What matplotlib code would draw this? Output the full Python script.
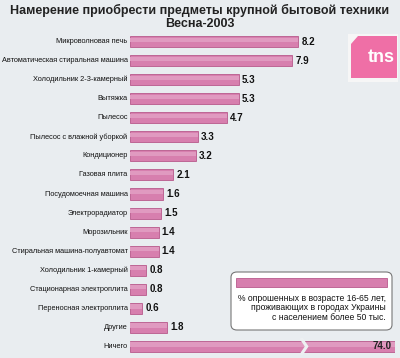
import matplotlib.pyplot as plt
from matplotlib.patches import FancyBboxPatch, Polygon
import numpy as np

plt.rcParams['font.family'] = ['Liberation Sans', 'DejaVu Sans']

items = ["Микроволновая печь", "Автоматическая стиральная машина",
         "Холодильник 2-3-камерный", "Вытяжка", "Пылесос",
         "Пылесос с влажной уборкой", "Кондиционер", "Газовая плита",
         "Посудомоечная машина", "Электрорадиатор", "Морозильник",
         "Стиральная машина-полуавтомат", "Холодильник 1-камерный",
         "Стационарная электроплита", "Переносная электроплита",
         "Другие", "Ничего"]
values = [8.2, 7.9, 5.3, 5.3, 4.7, 3.3, 3.2, 2.1, 1.6, 1.5, 1.4, 1.4,
          0.8, 0.8, 0.6, 1.8, 74.0]

bar_col = '#d77fae'
edge_col = '#b85a8c'
xmax = 12.9

fig = plt.figure(figsize=(4.0, 3.58), dpi=100)
fig.patch.set_facecolor('#e9edf0')

fig.text(0.5, 1 - 10/358, "Намерение приобрести предметы крупной бытовой техники",
         ha='center', va='center', fontsize=9, fontweight='bold', color='#222222')
fig.text(0.5, 1 - 24/358, "Весна-2003", ha='center', va='center', fontsize=9,
         fontweight='bold', color='#222222')

ax = fig.add_axes([130/400, 1 - 356/358, 265/400, 324/358])
ax.set_facecolor('none')
y = np.arange(len(items)) * 1.0
shown = [min(v, xmax) for v in values]
ax.barh(y, shown, height=0.58, color=bar_col, edgecolor=edge_col, linewidth=0.6)
# lighter highlight on upper part of each bar
ax.barh(y - 0.1, shown, height=0.22, color='#e09ac0', linewidth=0)

for yi, v, name in zip(y, values, items):
    ax.text(-0.12, yi, name, ha='right', va='center', fontsize=5.3, color='#111111')
    if v < xmax:
        ax.text(v + 0.15, yi, f"{v:.1f}", ha='left', va='center', fontsize=7,
                fontweight='bold', color='#111111')
    else:
        ax.text(xmax - 0.15, yi, f"{v:.1f}", ha='right', va='center', fontsize=7,
                fontweight='bold', color='#222222')
        xb = 8.4
        ax.add_patch(Polygon([[xb - 0.1, yi - 0.4], [xb + 0.15, yi], [xb - 0.1, yi + 0.4],
                              [xb, yi + 0.4], [xb + 0.25, yi], [xb, yi - 0.4]],
                             closed=True, color='#eef1f3', zorder=3))

ax.set_xlim(0, xmax)
ax.set_ylim(16.5, -0.5)
ax.axis('off')

# legend box
fig.patches.append(FancyBboxPatch((231/400, 1 - 330/358), 161/400, 58/358,
                                  boxstyle='round,pad=0,rounding_size=0.015',
                                  transform=fig.transFigure, facecolor='white',
                                  edgecolor='#777777', linewidth=0.8, zorder=2))
fig.patches.append(FancyBboxPatch((236/400, 1 - 287/358), 151/400, 9/358,
                                  boxstyle='square,pad=0', transform=fig.transFigure,
                                  facecolor=bar_col, edgecolor=edge_col, linewidth=0.6, zorder=3))
fig.text(386/400, 1 - 308/358,
         "% опрошенных в возрасте 16-65 лет,\nпроживающих в городах Украины\nс населением более 50 тыс.",
         ha='right', va='center', fontsize=6.2, linespacing=1.05, color='#111111', zorder=4)

# tns logo
fig.patches.append(FancyBboxPatch((348/400, 1 - 82/358), 50/400, 48/358,
                                  boxstyle='square,pad=0', transform=fig.transFigure,
                                  facecolor='#f6f6f6', edgecolor='none', zorder=2))
fig.patches.append(Polygon([[358/400, 1 - 36/358], [397/400, 1 - 36/358],
                            [397/400, 1 - 78/358], [351/400, 1 - 78/358],
                            [351/400, 1 - 44/358]], closed=True,
                           transform=fig.transFigure, facecolor='#ef6fa6',
                           edgecolor='none', zorder=3))
fig.text(381/400, 1 - 57/358, "tns", ha='center', va='center', fontsize=13,
         fontweight='bold', color='white', zorder=4)

fig.savefig('out.png', dpi=100, facecolor=fig.get_facecolor())
